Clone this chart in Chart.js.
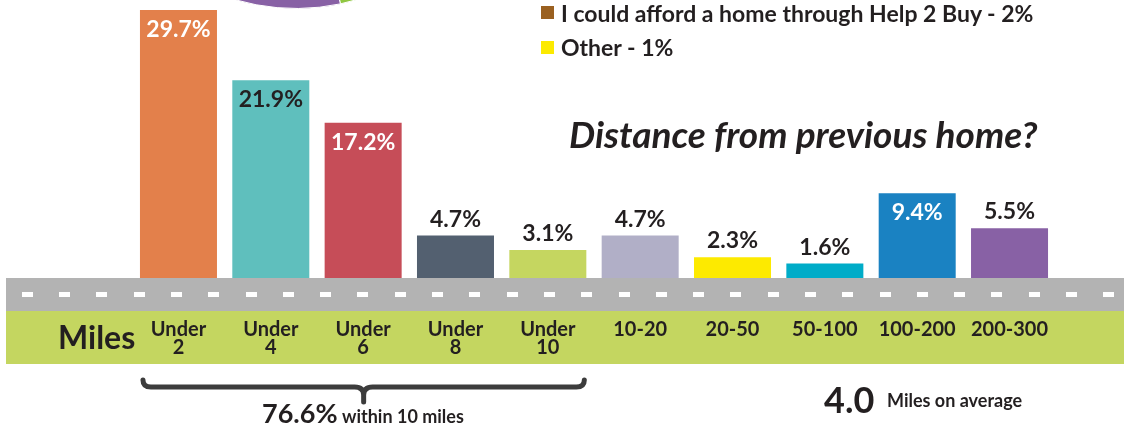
<!DOCTYPE html>
<html>
<head>
<meta charset="utf-8">
<script src="https://cdn.jsdelivr.net/npm/chart.js@4.4.1/dist/chart.umd.min.js"></script>
<style>
  html, body { margin: 0; padding: 0; background: #fff; }
  body { width: 1124px; height: 427px; position: relative; overflow: hidden; font-family: Lato, sans-serif; color: #231f20; font-weight: bold; }
  #grafico { position: absolute; left: 0; top: 0; }
  #pizza { position: absolute; left: 80px; top: -423px; }
  .txt { position: absolute; white-space: nowrap; line-height: 1; }
  .sq { position: absolute; width: 13px; height: 13px; }
</style>
</head>
<body>
<canvas id="pizza" width="432" height="432"></canvas>
<canvas id="grafico" width="1124" height="427"></canvas>

<div class="sq" style="left:541px; top:6px; background:#9a6020"></div>
<div class="txt" style="left:561px; top:2px; font-size:23px">I could afford a home through Help 2 Buy - 2%</div>
<div class="sq" style="left:541px; top:41px; background:#fcea00"></div>
<div class="txt" style="left:561px; top:36px; font-size:23px">Other - 1%</div>

<div class="txt" style="left:569px; top:115px; font-size:37px; font-style:italic">Distance from previous home?</div>

<div class="txt" style="left:58px; top:321px; font-size:32px">Miles</div>

<div class="txt" style="left:262px; top:399px; font-size:27px">76.6%</div>
<div class="txt" style="left:342px; top:407px; font-size:18px">within 10 miles</div>

<div class="txt" style="left:824px; top:381px; font-size:36px">4.0</div>
<div class="txt" style="left:887px; top:391px; font-size:18px">Miles on average</div>

<script>
// faixas de distancia e porcentagens
const categorias = [['Under', '2'], ['Under', '4'], ['Under', '6'], ['Under', '8'], ['Under', '10'], '10-20', '20-50', '50-100', '100-200', '200-300']
const porcentagens = [29.7, 21.9, 17.2, 4.7, 3.1, 4.7, 2.3, 1.6, 9.4, 5.5]
const cores = ['#e3804b', '#5fbfbd', '#c64d58', '#536070', '#c5d660', '#b1afc7', '#fdea00', '#00acc8', '#1a82c2', '#8861a5']

// pizza cortada no topo (so a borda de baixo aparece)
const pizzaLabels = ['(cut off)', '(cut off) ', 'I could afford a home through Help 2 Buy', 'Other']
const pizzaValores = [46.7, 50.3, 2, 1]
const pizzaCores = ['#8fc641', '#8861a5', '#9a6020', '#fcea00']

const escuro = '#231f20'

// estrada cinza + faixa verde embaixo das barras
const estrada = {
    id: 'estrada',
    beforeDraw(chart) {
        const ctx = chart.ctx
        const topo = chart.chartArea.bottom
        ctx.save()
        ctx.fillStyle = '#b3b3b3'
        ctx.fillRect(6, topo, chart.width - 6, 33)
        ctx.fillStyle = '#c4d660'
        ctx.fillRect(6, topo + 33, chart.width - 6, 53)
        ctx.fillStyle = '#ffffff'
        for (let x = 21.7; x < chart.width; x += 37.3) {
            ctx.fillRect(Math.round(x), topo + 14, 11, 5)
        }
        ctx.restore()
    },
    afterDraw(chart) {
        // chave embaixo das 5 primeiras faixas
        const barras = chart.getDatasetMeta(0).data
        const esq = barras[0].x - barras[0].width / 2 + 3
        const dir = barras[4].x + barras[4].width / 2 - 2
        const meio = (esq + dir) / 2
        const y = 387
        const ctx = chart.ctx
        ctx.save()
        ctx.strokeStyle = '#3c3c3c'
        ctx.lineWidth = 5
        ctx.lineCap = 'round'
        ctx.lineJoin = 'round'
        ctx.beginPath()
        ctx.moveTo(esq, 380)
        ctx.quadraticCurveTo(esq, y, esq + 8, y)
        ctx.lineTo(meio - 9, y)
        ctx.quadraticCurveTo(meio, y, meio, y + 8)
        ctx.lineTo(meio, 402)
        ctx.moveTo(meio, y + 8)
        ctx.quadraticCurveTo(meio, y, meio + 9, y)
        ctx.lineTo(dir - 8, y)
        ctx.quadraticCurveTo(dir, y, dir, 380)
        ctx.stroke()
        ctx.restore()
    }
}

// rotulos de valor: dentro das barras altas, em cima das baixas
const rotulos = {
    id: 'rotulos',
    afterDatasetsDraw(chart) {
        const ctx = chart.ctx
        ctx.save()
        ctx.font = 'bold 23px Lato'
        ctx.textAlign = 'center'
        ctx.textBaseline = 'alphabetic'
        chart.getDatasetMeta(0).data.forEach((barra, i) => {
            const v = porcentagens[i]
            const texto = v.toFixed(1) + '%'
            if (v >= 9) {
                ctx.fillStyle = i === 1 ? escuro : '#ffffff'
                ctx.fillText(texto, barra.x, barra.y + 27)
            } else {
                ctx.fillStyle = escuro
                ctx.fillText(texto, barra.x, barra.y - 9)
            }
        })
        ctx.restore()
    }
}

function grafico() {
    new Chart(document.getElementById('grafico'), {
        type: 'bar',
        data: {
            labels: categorias,
            datasets: [{
                data: porcentagens,
                backgroundColor: cores,
                borderWidth: 0,
                barPercentage: 0.834,
                categoryPercentage: 1
            }]
        },
        options: {
            responsive: false,
            animation: false,
            layout: { padding: { left: 132.3, right: 68.3, top: 0, bottom: 0 } },
            plugins: {
                legend: { display: false },
                tooltip: { enabled: false }
            },
            scales: {
                x: {
                    grid: { display: false, drawTicks: false },
                    border: { display: false },
                    ticks: {
                        color: escuro,
                        font: { family: 'Lato', size: 20, weight: 'bold', lineHeight: 0.9 },
                        padding: 43,
                        maxRotation: 0,
                        autoSkip: false
                    },
                    afterFit(scale) { scale.height = 149 }
                },
                y: { display: false, min: 0, max: 30.8 }
            }
        },
        plugins: [estrada, rotulos]
    })

    new Chart(document.getElementById('pizza'), {
        type: 'pie',
        data: {
            labels: pizzaLabels,
            datasets: [{
                data: pizzaValores,
                backgroundColor: pizzaCores,
                borderColor: '#ffffff',
                borderWidth: 1,
                hoverOffset: 0
            }]
        },
        options: {
            responsive: false,
            animation: false,
            plugins: {
                legend: { display: false },
                tooltip: { enabled: false }
            }
        }
    })
}

document.fonts.load('bold 23px Lato').then(grafico, grafico)
</script>
</body>
</html>
